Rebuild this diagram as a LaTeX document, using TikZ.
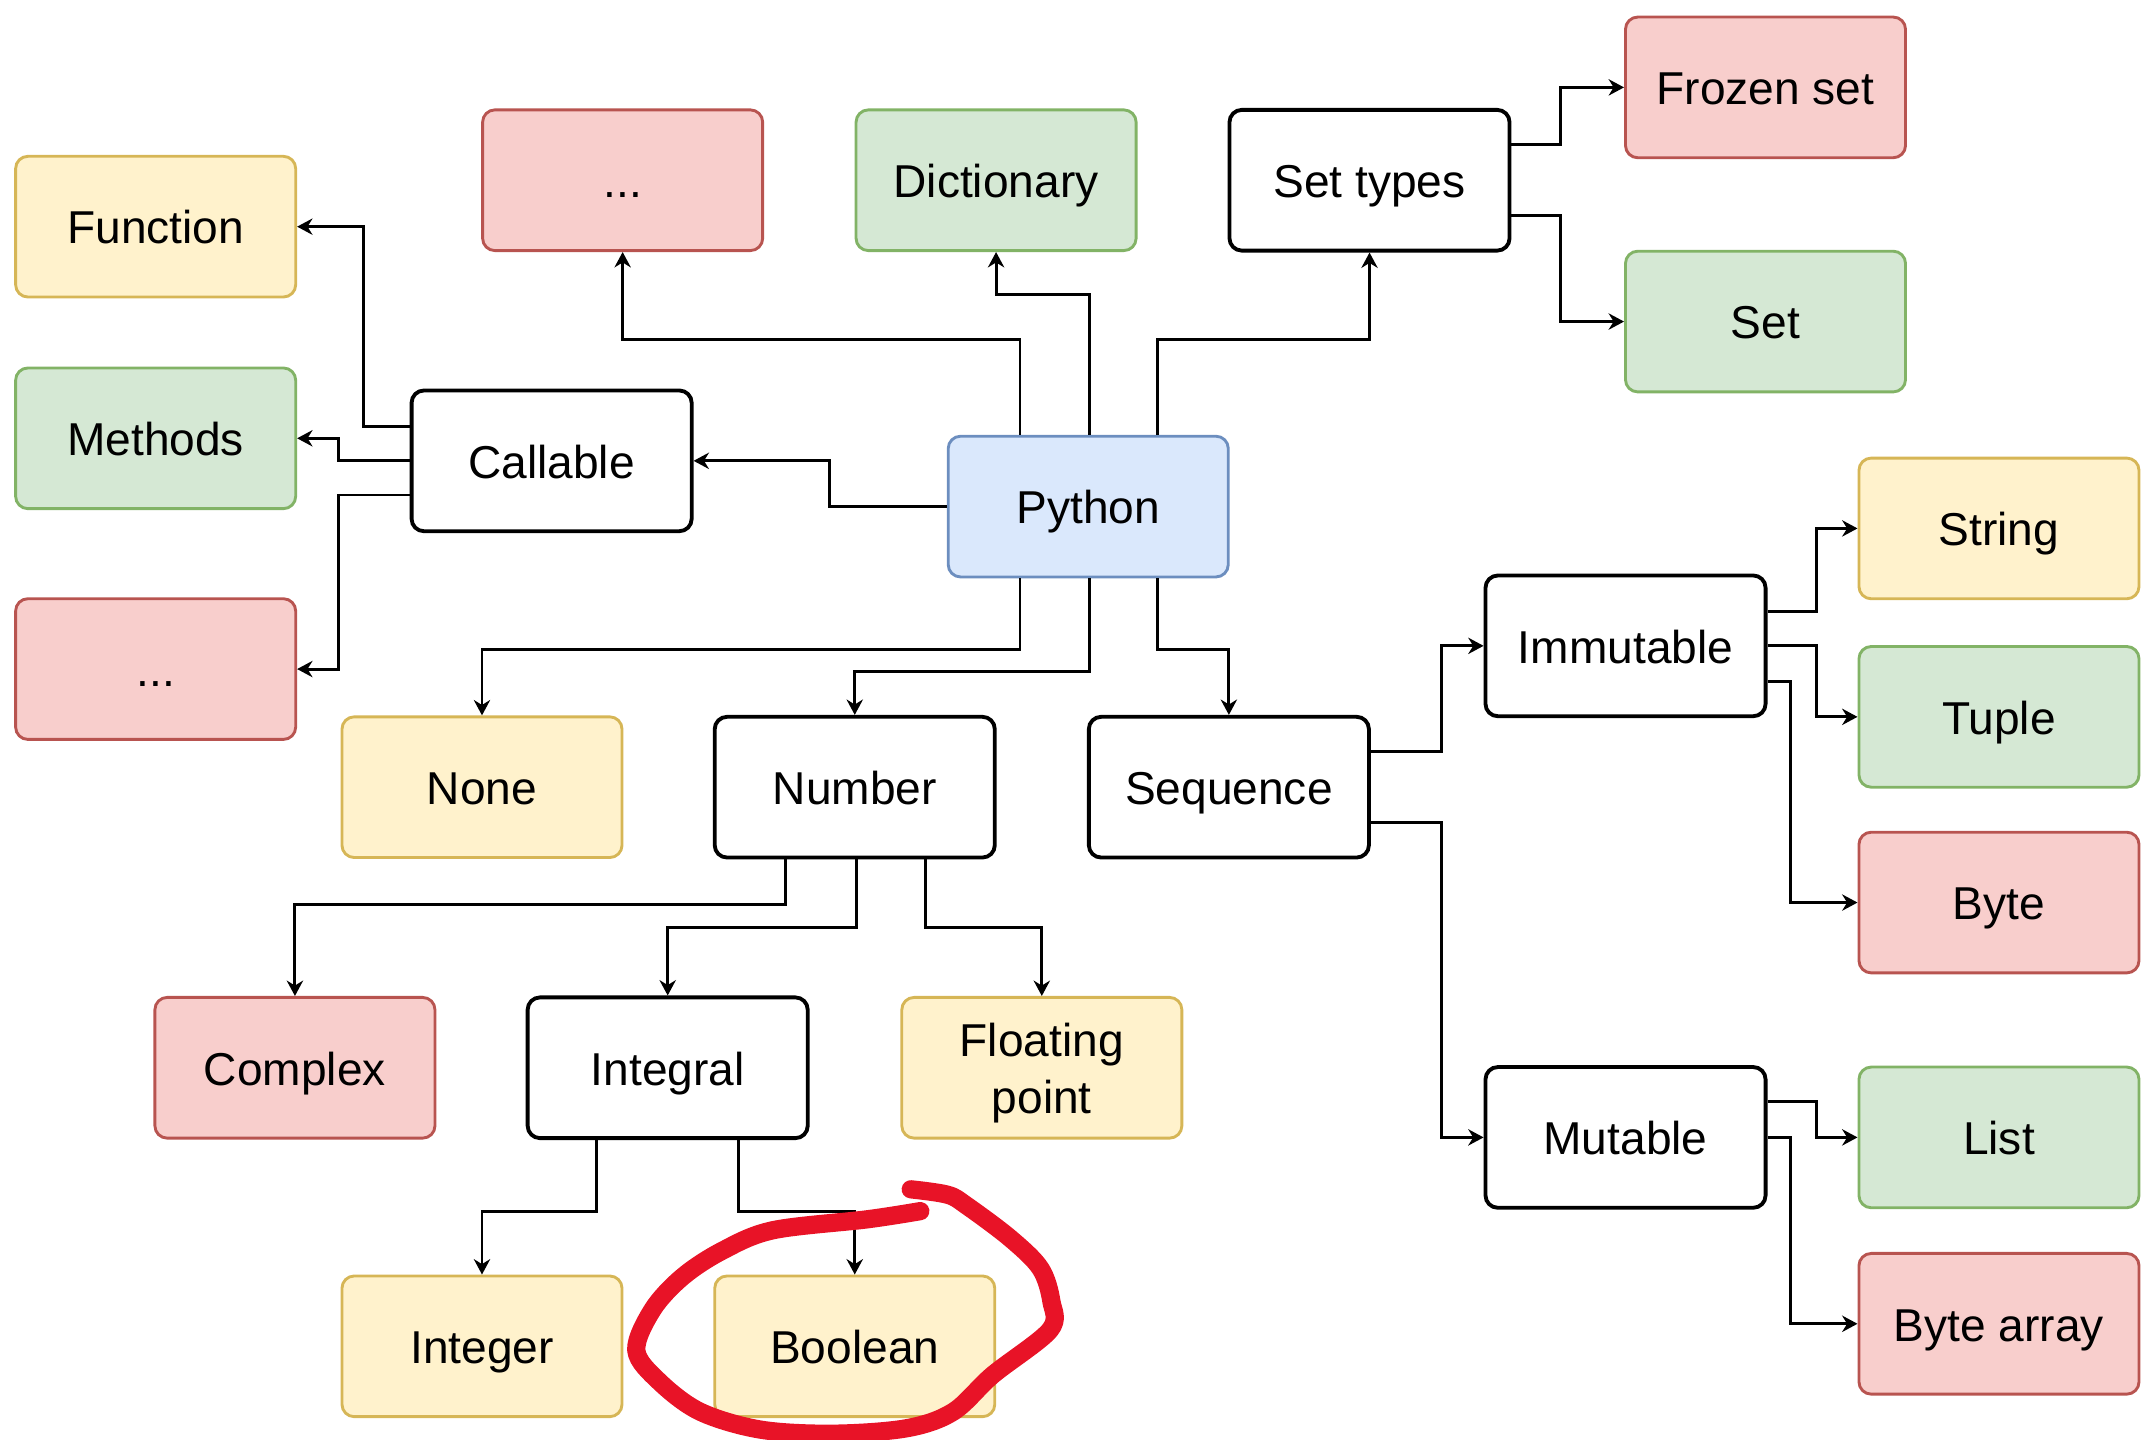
\documentclass[tikz,border=0pt]{standalone}
\usepackage{fontspec}
\setmainfont{Liberation Sans}
\usetikzlibrary{arrows.meta,calc}
\definecolor{yfill}{HTML}{FFF2CC}\definecolor{ydraw}{HTML}{D6B656}
\definecolor{gfill}{HTML}{D5E8D4}\definecolor{gdraw}{HTML}{82B366}
\definecolor{rfill}{HTML}{F8CECC}\definecolor{rdraw}{HTML}{B85450}
\definecolor{bfill}{HTML}{DAE8FC}\definecolor{bdraw}{HTML}{6C8EBF}
\definecolor{marker}{RGB}{232,19,39}
\begin{document}
\begin{tikzpicture}[x=0.01cm,y=-0.01cm,
  box/.style={rectangle,rounded corners=0.09cm,minimum width=2.05cm,minimum height=1.03cm,
    align=center,inner sep=0pt,text height=7.2pt,text depth=0pt,font=\fontsize{9.6}{11.7}\selectfont},
  plainbox/.style={box,draw=black,fill=white,line width=0.8pt},
  yelbox/.style={box,draw=ydraw,fill=yfill,line width=0.6pt},
  grnbox/.style={box,draw=gdraw,fill=gfill,line width=0.6pt},
  redbox/.style={box,draw=rdraw,fill=rfill,line width=0.6pt},
  bluebox/.style={box,draw=bdraw,fill=bfill,line width=0.6pt},
  arr/.style={draw=black,line width=0.6pt,-{Stealth[length=3.2pt,width=3.4pt]}},
  circ/.style={draw=marker,line width=3.8pt,line cap=round,line join=round}]
\useasboundingbox (0,0) rectangle (1568,1054.6);

% nodes
\node[yelbox] (fn) at (114,166) {Function};
\node[grnbox] (meth) at (114,321) {Methods};
\node[redbox] (dots2) at (114,490) {...};
\node[plainbox] (call) at (404,337.5) {Callable};
\node[redbox] (dots1) at (456,132) {...};
\node[grnbox] (dict) at (729.5,132) {Dictionary};
\node[plainbox] (sett) at (1003,132) {Set types};
\node[redbox] (frozen) at (1293,64) {Frozen set};
\node[grnbox] (setn) at (1293,235.5) {Set};
\node[bluebox] (py) at (797,371) {Python};
\node[yelbox] (none) at (353,576.5) {None};
\node[plainbox] (num) at (626,576.5) {Number};
\node[plainbox] (seq) at (900,576.5) {Sequence};
\node[plainbox] (imm) at (1190.5,473) {Immutable};
\node[plainbox] (mut) at (1190.5,833) {Mutable};
\node[yelbox] (str) at (1464,387) {String};
\node[grnbox] (tup) at (1464,525) {Tuple};
\node[redbox] (byte) at (1464,661) {Byte};
\node[grnbox] (list) at (1464,833) {List};
\node[redbox] (barr) at (1464,969.5) {Byte array};
\node[redbox] (cplx) at (216,782) {Complex};
\node[plainbox] (intg) at (489,782) {Integral};
\node[yelbox,text height=18.9pt] (flt) at (763,782) {Floating\\point};
\node[yelbox] (inte) at (353,986) {Integer};
\node[yelbox] (bool) at (626,986) {Boolean};

% connectors
\draw[arr] ([shift={(-50,0)}]py.north) -- ++(0,-70) -| (dots1.south);
\draw[arr] ([shift={(1,0)}]py.north) -- ++(0,-103) -| (dict.south);
\draw[arr] ([shift={(51,0)}]py.north) -- ++(0,-70) -| (sett.south);
\draw[arr] (py.west) -- ++(-86,0) |- (call.east);
\draw[arr] ([shift={(0,-25)}]call.west) -- ++(-34,0) |- (fn.east);
\draw[arr] (call.west) -- ++(-52,0) |- (meth.east);
\draw[arr] ([shift={(0,25)}]call.west) -- ++(-52,0) |- (dots2.east);
\draw[arr] ([shift={(0,-26)}]sett.east) -- ++(36,0) |- (frozen.west);
\draw[arr] ([shift={(0,26)}]sett.east) -- ++(36,0) |- (setn.west);
\draw[arr] ([shift={(-50,0)}]py.south) -- ++(0,52) -| (none.north);
\draw[arr] ([shift={(1,0)}]py.south) -- ++(0,68) -| (num.north);
\draw[arr] ([shift={(51,0)}]py.south) -- ++(0,52) -| (seq.north);
\draw[arr] ([shift={(0,-26)}]seq.east) -- ++(52,0) |- (imm.west);
\draw[arr] ([shift={(0,26)}]seq.east) -- ++(52,0) |- (mut.west);
\draw[arr] ([shift={(0,-25)}]imm.east) -- ++(36,0) |- (str.west);
\draw[arr] (imm.east) -- ++(36,0) |- (tup.west);
\draw[arr] ([shift={(0,26)}]imm.east) -- ++(17,0) |- (byte.west);
\draw[arr] ([shift={(0,-26)}]mut.east) -- ++(36,0) |- (list.west);
\draw[arr] (mut.east) -- ++(17,0) |- (barr.west);
\draw[arr] ([shift={(-51,0)}]num.south) -- ++(0,33) -| (cplx.north);
\draw[arr] ([shift={(1,0)}]num.south) -- ++(0,50) -| (intg.north);
\draw[arr] ([shift={(52,0)}]num.south) -- ++(0,50) -| (flt.north);
\draw[arr] ([shift={(-52,0)}]intg.south) -- ++(0,52) -| (inte.north);
\draw[arr] ([shift={(52,0)}]intg.south) -- ++(0,52) -| (bool.north);

% hand-drawn red marker
\draw[circ] plot[smooth,tension=0.55] coordinates {
  (674,887) (635,893) (566,901) (529,916) (500,935) (478,959) (466,989)
  (483,1012) (513,1034) (557,1047) (610,1050) (664,1046) (698,1034)
  (727,1007) (769,974) (770,953) (762,929) (740,907) (708,883) (694,875) (667,871)};
\end{tikzpicture}
\end{document}
